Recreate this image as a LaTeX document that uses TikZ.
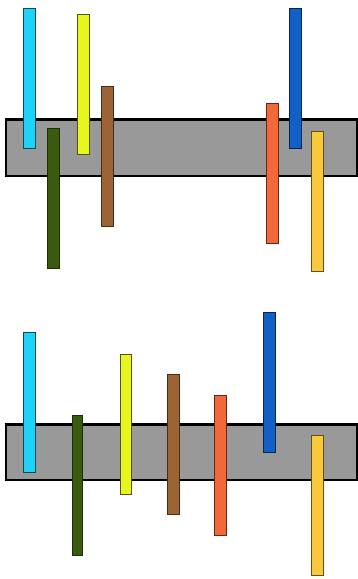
\documentclass[tikz,border=0pt]{standalone}
\usepackage{xcolor}
\usepackage{tikz}
\definecolor{grisbarre}{RGB}{153, 153, 153}
\definecolor{cyanvif}{RGB}{30, 210, 248}
\definecolor{jaunevert}{RGB}{232, 245, 30}
\definecolor{vertfonce}{RGB}{58, 90, 14}
\definecolor{brun}{RGB}{156, 100, 52}
\definecolor{orangevif}{RGB}{242, 104, 58}
\definecolor{bleuvif}{RGB}{16, 96, 200}
\definecolor{jauneor}{RGB}{248, 201, 58}

\begin{document}
\begin{tikzpicture}[x=1pt, y=-1pt,
    barre/.style={fill=grisbarre, draw=black, line width=2.2pt},
    tige/.style={line width=0.9pt}]
    \useasboundingbox (0,0) rectangle (358,579);
    % panneau du haut
    \draw[barre] (6,119.5) rectangle (357,176);
    \draw[tige, fill=cyanvif, draw=cyanvif!35!black] (23.5,8) rectangle (35.5,148);
    \draw[tige, fill=vertfonce, draw=vertfonce!50!black] (47,128) rectangle (59,268);
    \draw[tige, fill=jaunevert, draw=jaunevert!35!black] (77.5,14) rectangle (89.5,154);
    \draw[tige, fill=brun, draw=brun!45!black] (101.5,86) rectangle (113.5,226);
    \draw[tige, fill=orangevif, draw=orangevif!40!black] (266.5,103) rectangle (278.5,243);
    \draw[tige, fill=bleuvif, draw=bleuvif!40!black] (289,8) rectangle (301,148);
    \draw[tige, fill=jauneor, draw=jauneor!40!black] (311,131) rectangle (323,271);
    % panneau du bas
    \draw[barre] (6,424.5) rectangle (357,480);
    \draw[tige, fill=cyanvif, draw=cyanvif!35!black] (23.5,332.5) rectangle (35.5,472.5);
    \draw[tige, fill=vertfonce, draw=vertfonce!50!black] (72.5,415) rectangle (82.5,555.5);
    \draw[tige, fill=jaunevert, draw=jaunevert!35!black] (120,354.5) rectangle (131.5,494.5);
    \draw[tige, fill=brun, draw=brun!45!black] (167,374.5) rectangle (179.5,514.5);
    \draw[tige, fill=orangevif, draw=orangevif!40!black] (214.5,395) rectangle (226.5,535);
    \draw[tige, fill=bleuvif, draw=bleuvif!40!black] (263.5,312) rectangle (275.5,452.5);
    \draw[tige, fill=jauneor, draw=jauneor!40!black] (311,435) rectangle (323,575.5);
\end{tikzpicture}
\end{document}
